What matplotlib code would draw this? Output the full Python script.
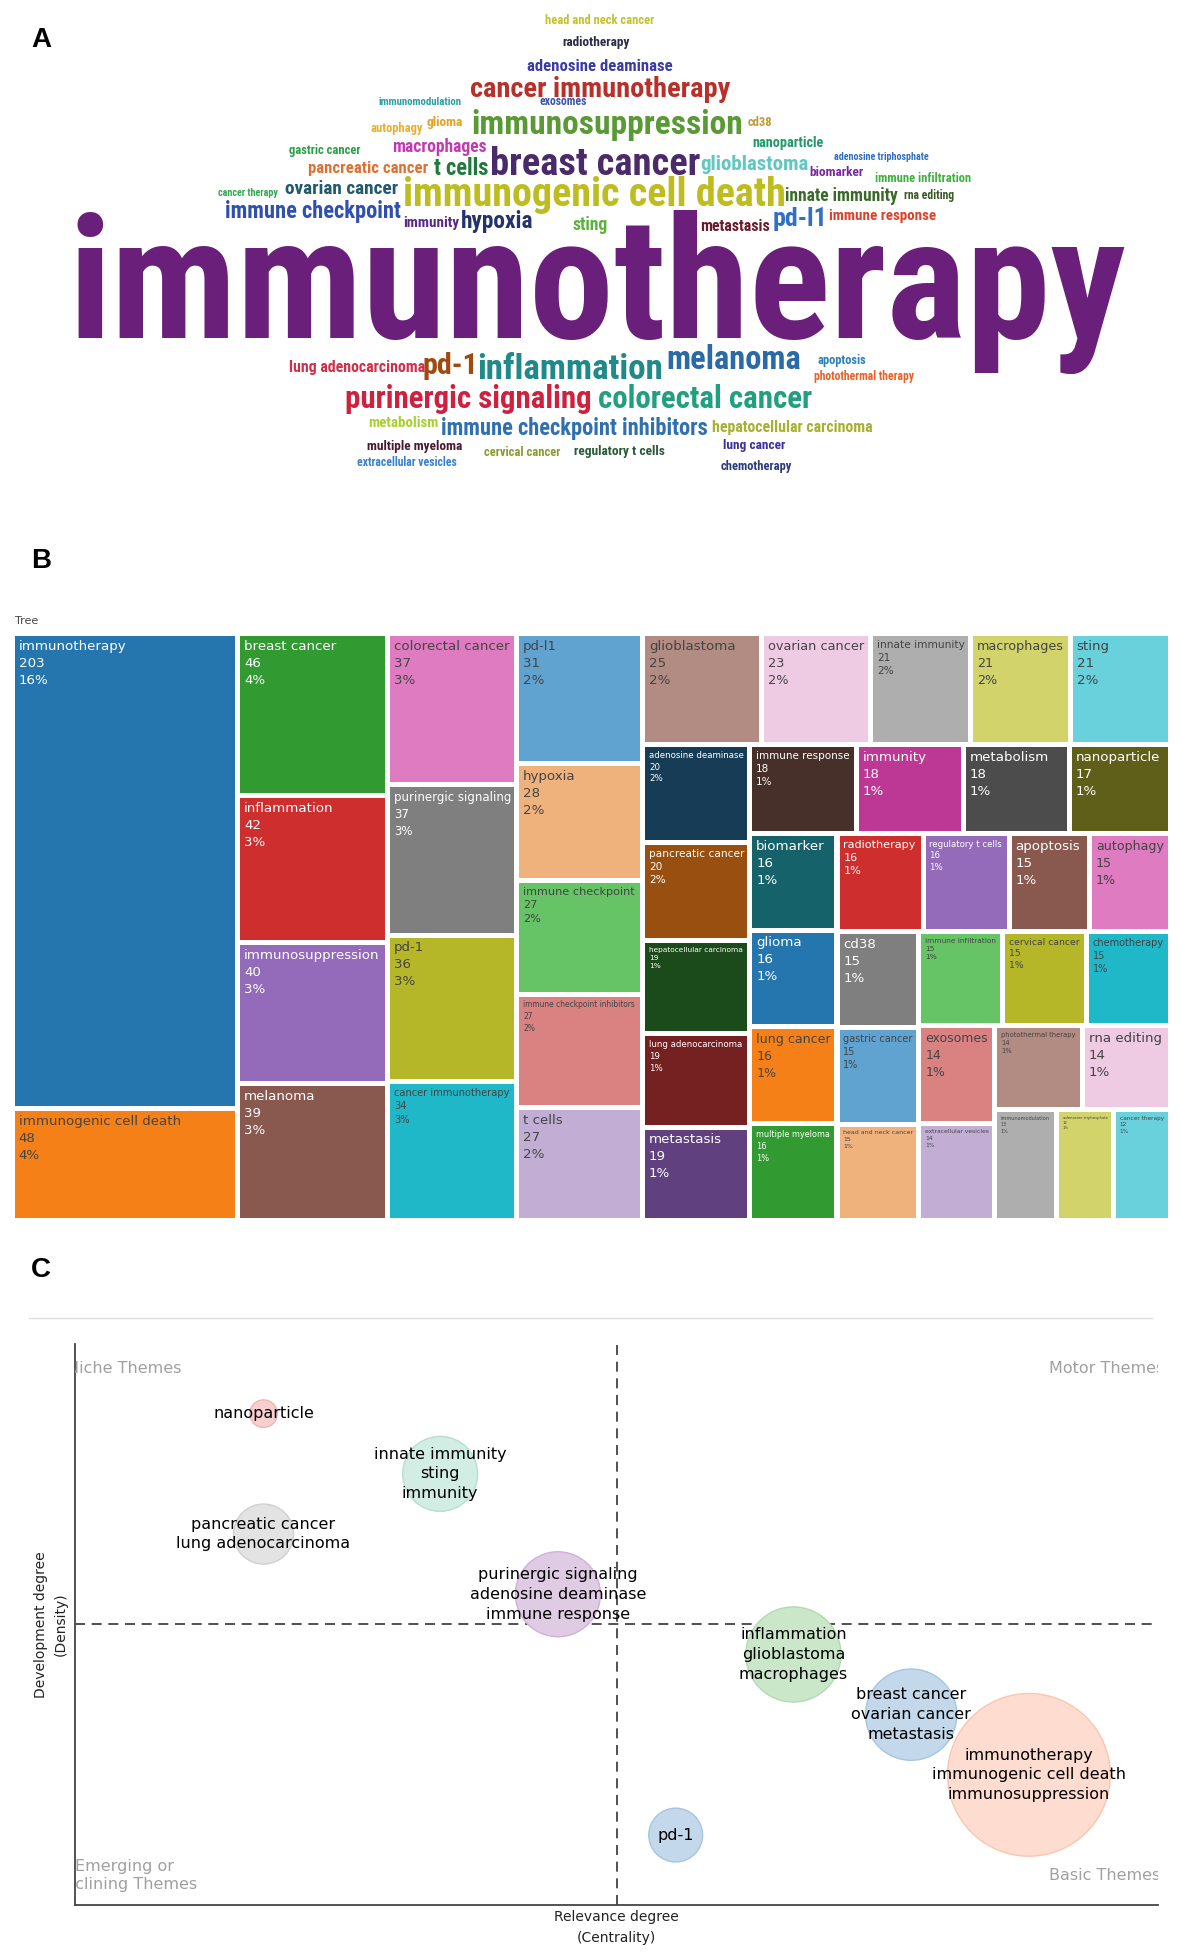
import colorsys
import matplotlib
matplotlib.use("Agg")
import matplotlib.pyplot as plt
from matplotlib.patches import Rectangle
from matplotlib import font_manager as fm

# ---------------- data ----------------
keywords = ["immunotherapy", "immunogenic cell death", "breast cancer", "inflammation",
            "immunosuppression", "melanoma", "colorectal cancer", "purinergic signaling", "pd-1",
            "cancer immunotherapy", "pd-l1", "hypoxia", "immune checkpoint",
            "immune checkpoint inhibitors", "t cells", "glioblastoma", "ovarian cancer",
            "innate immunity", "macrophages", "sting", "adenosine deaminase", "pancreatic cancer",
            "hepatocellular carcinoma", "lung adenocarcinoma", "metastasis", "immune response",
            "immunity", "metabolism", "nanoparticle", "biomarker", "glioma", "lung cancer",
            "multiple myeloma", "radiotherapy", "regulatory t cells", "apoptosis", "autophagy",
            "cd38", "gastric cancer", "head and neck cancer", "immune infiltration",
            "cervical cancer", "chemotherapy", "exosomes", "extracellular vesicles",
            "photothermal therapy", "rna editing", "immunomodulation", "adenosine triphosphate",
            "cancer therapy"]
occurrences = [203, 48, 46, 42, 40, 39, 37, 37, 36, 34, 31, 28, 27, 27, 27, 25, 23, 21, 21, 21,
               20, 20, 19, 19, 19, 18, 18, 18, 17, 16, 16, 16, 16, 16, 16, 15, 15, 15, 15, 15,
               15, 15, 15, 14, 14, 14, 14, 13, 12, 12]

cluster_labels = ["nanoparticle",
                  "innate immunity\nsting\nimmunity",
                  "pancreatic cancer\nlung adenocarcinoma",
                  "purinergic signaling\nadenosine deaminase\nimmune response",
                  "inflammation\nglioblastoma\nmacrophages",
                  "breast cancer\novarian cancer\nmetastasis",
                  "immunotherapy\nimmunogenic cell death\nimmunosuppression",
                  "pd-1"]
centrality_rank = [1.5, 3, 1.5, 4, 6, 7, 8, 5]
density_rank = [8, 7, 6, 5, 4, 3, 2, 1]
cluster_freq = [17, 126, 81, 162, 203, 187, 594, 65]

quadrant_names = ["Niche Themes", "Motor Themes", "Emerging or\nDeclining Themes", "Basic Themes"]

# ---------------- layout / style (word cloud placement, perceived px) ----------------
cloud_x = [477, 475, 475, 455, 485, 586, 563, 374, 360, 479, 639, 397, 250, 459, 368, 602, 273,
           672, 351, 471, 479, 294, 633, 285, 587, 705, 344, 322, 629, 668, 355, 602, 331, 476,
           495, 672, 317, 607, 259, 479, 737, 417, 604, 450, 325, 690, 742, 335, 704, 198]
cloud_y = [225, 154, 130, 293, 98, 286, 318, 318, 291, 70, 174, 176, 168, 341, 134, 130, 150,
           156, 117, 179, 52, 134, 341, 293, 180, 172, 177, 337, 114, 137, 97, 355, 356, 33,
           360, 287, 102, 97, 120, 16, 142, 361, 372, 81, 369, 300, 156, 81, 125, 154]
cloud_colors = ["#6a1f7a", "#bdbd22", "#4a2a6a", "#208a8a", "#5a9a35", "#2a6aa8", "#20a080",
                "#d0203f", "#a04a10", "#b8302a", "#2f6fc8", "#24336e", "#2f50b0", "#3070b0",
                "#1f7a3a", "#60c8c0", "#1f5a6e", "#3a6a2a", "#c03ab0", "#5ab33a", "#3b3ba8",
                "#e07030", "#a8b030", "#d0304a", "#6a1a2a", "#e0402a", "#5a2a8a", "#a8d030",
                "#1f9a6a", "#7a2a9a", "#e8a020", "#3a30a0", "#4a1a30", "#2b2a4c", "#2a5a3a",
                "#2a80b8", "#e8b030", "#c09a30", "#2aa045", "#c2c12e", "#40b040", "#8a9a30",
                "#2a3a7a", "#3a55b0", "#3a80d0", "#e8602a", "#3a5a2a", "#2aa0a8", "#3070c0",
                "#30a850"]

bubble_fill = ["#f7cfcf", "#d1ede4", "#e3e3e3", "#e0cbe4", "#cae7c9", "#c3d8ea", "#fedcd0", "#c3d8ea"]
bubble_edge = ["#f0b4b4", "#b5e0d0", "#d0d0d0", "#d0b0d8", "#b0dcae", "#a6c5e0", "#f9c6b2", "#a6c5e0"]

plotly_colorway = ['#1f77b4', '#ff7f0e', '#2ca02c', '#d62728', '#9467bd',
                   '#8c564b', '#e377c2', '#7f7f7f', '#bcbd22', '#17becf']


def shift_light(hexc, amt, sat):
    r, g, b = (int(hexc[i:i + 2], 16) / 255 for i in (1, 3, 5))
    h, l, s = colorsys.rgb_to_hls(r, g, b)
    l = min(1, max(0, l + amt))
    s = s * sat
    r, g, b = colorsys.hls_to_rgb(h, l, s)
    return '#%02x%02x%02x' % (round(r * 255), round(g * 255), round(b * 255))


extended = [shift_light(c, 0.0, 0.92) for c in plotly_colorway] + \
    [shift_light(c, 0.185, 0.78) for c in plotly_colorway] + \
    [shift_light(c, -0.2, 0.82) for c in plotly_colorway]


def text_color(hexc):
    r, g, b = (int(hexc[i:i + 2], 16) for i in (1, 3, 5))
    return '#444444' if (r * 299 + g * 587 + b * 114) / 1000 >= 128 else '#ffffff'


def squarify(values, x0, y0, x1, y1, ratio=1.0):
    rects = [None] * len(values)
    value = float(sum(values))
    n = len(values)
    i0 = i1 = 0
    while i0 < n:
        dx, dy = x1 - x0, y1 - y0
        sumv = values[i1]
        i1 += 1
        minv = maxv = sumv
        alpha = max(dy / dx, dx / dy) / (value * ratio)
        beta = sumv * sumv * alpha
        minratio = max(maxv / beta, beta / minv)
        while i1 < n:
            nv = values[i1]
            sumv += nv
            minv = min(minv, nv)
            maxv = max(maxv, nv)
            beta = sumv * sumv * alpha
            newratio = max(maxv / beta, beta / minv)
            if newratio > minratio:
                sumv -= nv
                break
            minratio = newratio
            i1 += 1
        if dx < dy:
            ny = y0 + dy * sumv / value
            xx = x0
            for i in range(i0, i1):
                w = dx * values[i] / sumv
                rects[i] = (xx, y0, xx + w, ny)
                xx += w
            y0 = ny
        else:
            nx = x0 + dx * sumv / value
            yy = y0
            for i in range(i0, i1):
                h = dy * values[i] / sumv
                rects[i] = (x0, yy, nx, yy + h)
                yy += h
            x0 = nx
        value -= sumv
        i0 = i1
    return rects


names = {f.name for f in fm.fontManager.ttflist}
cloud_font = next((nm for nm in ["Liberation Sans Narrow", "DejaVu Sans Condensed",
                                 "Roboto Condensed", "Liberation Sans"] if nm in names), "DejaVu Sans")

W_P, H_P = 943.0, 1565.0
SC = 1181.0 / W_P
PT_P = (100 / 72) / SC

fig = plt.figure(figsize=(11.81, 19.60), dpi=100)
bg = fig.add_axes([0, 0, 1, 1])
bg.set_xlim(0, W_P)
bg.set_ylim(H_P, 0)
bg.axis('off')
renderer = fig.canvas.get_renderer()

# panel labels
for lab, yy in zip(["A", "B", "C"], [32, 448, 1014]):
    bg.text(33, yy, lab, fontsize=20, weight='bold', family=['Liberation Sans', 'DejaVu Sans'],
            ha='center', va='center', color='black')

# ---------------- A: word cloud ----------------
probe = bg.text(0, 0, keywords[0], fontsize=100, family=cloud_font, weight='bold')
w100 = probe.get_window_extent(renderer=renderer).width
probe.remove()
k = 100 * (845 * SC) / w100 / occurrences[0]
for word, f, x, y, c in zip(keywords, occurrences, cloud_x, cloud_y, cloud_colors):
    fs = k * f
    em = fs * PT_P
    bg.text(x, y + 0.33 * em, word, fontsize=fs, family=cloud_font, weight='bold',
            color=c, ha='center', va='baseline')

# ---------------- B: treemap ----------------
bg.text(12, 496, "Tree", fontsize=8, color='#444444', ha='left', va='center',
        family='DejaVu Sans')
total = sum(occurrences)
rects = squarify(occurrences, 10.0, 506.0, 934.5, 974.5)
order = sorted(range(len(keywords)), key=lambda i: (-occurrences[i], keywords[i]))
cidx = {i: r for r, i in enumerate(order)}
gap = 2.0
FS_MAX = 9.6
for i, (a, b, c, d) in enumerate(rects):
    col = extended[cidx[i] % 30]
    x, y, w, h = a + gap, b + gap, c - a - 2 * gap, d - b - 2 * gap
    bg.add_patch(Rectangle((x, y), w, h, facecolor=col, edgecolor='none'))
    pct = round(100 * occurrences[i] / total)
    txt = f"{keywords[i]}\n{occurrences[i]}\n{pct}%"
    t = bg.text(x + 3, y + 3, txt, fontsize=FS_MAX, family='DejaVu Sans',
                color=text_color(col), ha='left', va='top', linespacing=1.4)
    bb = t.get_window_extent(renderer=renderer)
    s = min(1.0, (w - 6) * SC / bb.width, (h - 6) * SC / bb.height)
    if s < 1:
        t.set_fontsize(FS_MAX * s)

# ---------------- C: thematic map ----------------
bg.plot([23, 920], [1052, 1052], color='#dedede', lw=1)

L, R, T, B = 60 / W_P, 925 / W_P, 1073 / H_P, 1521 / H_P
axc = fig.add_axes([L, 1 - B, R - L, B - T])
axc.patch.set_alpha(0)
axc.set_xlim(-0.1, 9.1)
axc.set_ylim(-0.16, 9.16)
axc.set_xticks([])
axc.set_yticks([])
for sp in ['top', 'right']:
    axc.spines[sp].set_visible(False)
for sp in ['left', 'bottom']:
    axc.spines[sp].set_color('#444444')
    axc.spines[sp].set_linewidth(1.3)

axc.axvline(4.5, color='#333333', lw=1.2, dashes=(6, 4), zorder=1)
axc.axhline(4.5, color='#333333', lw=1.2, dashes=(6, 4), zorder=1)

axc.scatter(centrality_rank, density_rank, s=[23.1 * f for f in cluster_freq],
            c=bubble_fill, edgecolors=bubble_edge, linewidths=1.0, zorder=2)
for lab, x, y in zip(cluster_labels, centrality_rank, density_rank):
    axc.text(x, y, lab, ha='center', va='center', fontsize=11.5, family='DejaVu Sans',
             color='black', linespacing=1.4, zorder=3)

for lab, x, y in zip(quadrant_names, [0.32, 8.66, 0.32, 8.64], [8.75, 8.75, 0.325, 0.335]):
    axc.text(x, y, lab, ha='center', va='center', fontsize=11.5, family='DejaVu Sans',
             color='#a0a0a0', linespacing=1.3, clip_on=True, zorder=3)

axc.set_xlabel("Relevance degree\n(Centrality)", fontsize=10, linespacing=1.6, labelpad=4,
               family='DejaVu Sans', color='#222222')
axc.set_ylabel("Development degree\n(Density)", fontsize=10, linespacing=1.6, labelpad=5,
               family='DejaVu Sans', color='#222222')

fig.savefig("out.png", dpi=100)
